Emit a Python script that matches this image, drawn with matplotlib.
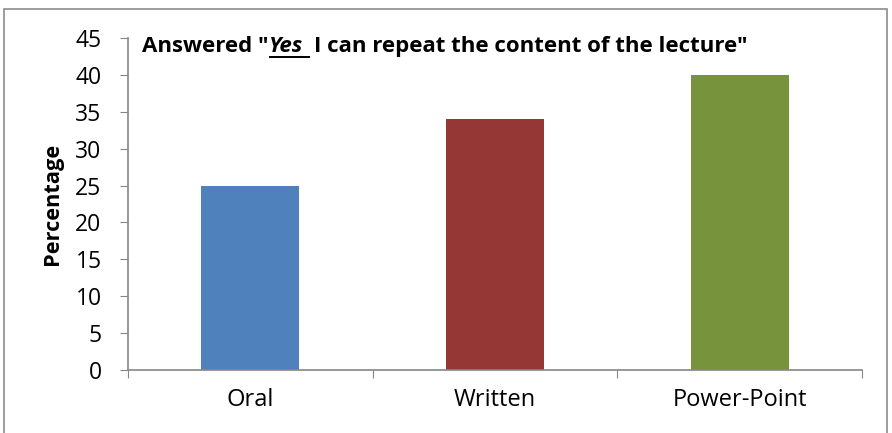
import matplotlib
matplotlib.use("Agg")
import matplotlib.pyplot as plt
from matplotlib.patches import Rectangle
from matplotlib.lines import Line2D

categories = ["Oral", "Written", "Power-Point"]
values = [25, 34, 40]
colors = ["#4F81BD", "#953735", "#77933C"]
yticks = [0, 5, 10, 15, 20, 25, 30, 35, 40, 45]

FONT = "Open Sans"
plt.rcParams['font.family'] = [FONT, 'DejaVu Sans']

W, H = 892, 433
fig = plt.figure(figsize=(W/100, H/100), dpi=100)
ax = fig.add_axes([128/W, 1-370/H, (862-128)/W, (370-38)/H])

x = list(range(len(categories)))
ax.bar(x, values, width=0.4, color=colors)
ax.set_xlim(-0.5, 2.5)
ax.set_ylim(0, 45)
ax.set_yticks(yticks)
ax.set_yticklabels([str(v) for v in yticks], fontsize=16.5)
ax.set_xticks([-0.5, 0.5, 1.5, 2.5])
ax.set_xticklabels([])
ax.set_xticks(x, minor=True)
ax.set_xticklabels(categories, minor=True, fontsize=17)
ax.tick_params(axis='x', which='minor', length=0, pad=13)
ax.tick_params(axis='x', which='major', length=6, color='#868686', direction='out')
ax.tick_params(axis='y', length=6, color='#868686', direction='out', pad=13)
for s in ['top', 'right']:
    ax.spines[s].set_visible(False)
for s in ['left', 'bottom']:
    ax.spines[s].set_color('#868686')
    ax.spines[s].set_linewidth(1.2)

ax.set_ylabel("Percentage", fontsize=15.7, fontweight='bold')
ax.yaxis.set_label_coords(-(128-63)/(862-128), 0.5)

# figure border
fig.patches.append(Rectangle((3.5/W, -0.05), (887-3.5)/W, 1-8.5/H+0.05,
                             transform=fig.transFigure, fill=False,
                             edgecolor='#8c8c8c', linewidth=1.2))

# title with mixed styling
fig.canvas.draw()
r = fig.canvas.get_renderer()
tx, ty = 142/W, 1-52/H
fs = 16
t1 = fig.text(tx, ty, 'Answered "', fontsize=fs, fontweight='bold', va='baseline', ha='left')
bb1 = t1.get_window_extent(r)
t2 = fig.text(bb1.x1/W, ty, 'Yes', fontsize=fs, fontweight='bold', style='italic', va='baseline', ha='left')
bb2 = t2.get_window_extent(r)
spw = fs * 100 / 72 * 0.26
ux0 = bb2.x0 + 1
ux1 = bb2.x1 + spw
uy = H - 57
fig.lines.append(Line2D([ux0/W, ux1/W], [uy/H, uy/H], transform=fig.transFigure, color='black', linewidth=1.4))
t3 = fig.text((ux1 + spw)/W, ty, 'I can repeat the content of the lecture"', fontsize=fs, fontweight='bold', va='baseline', ha='left')

fig.savefig("out.png", dpi=100)
